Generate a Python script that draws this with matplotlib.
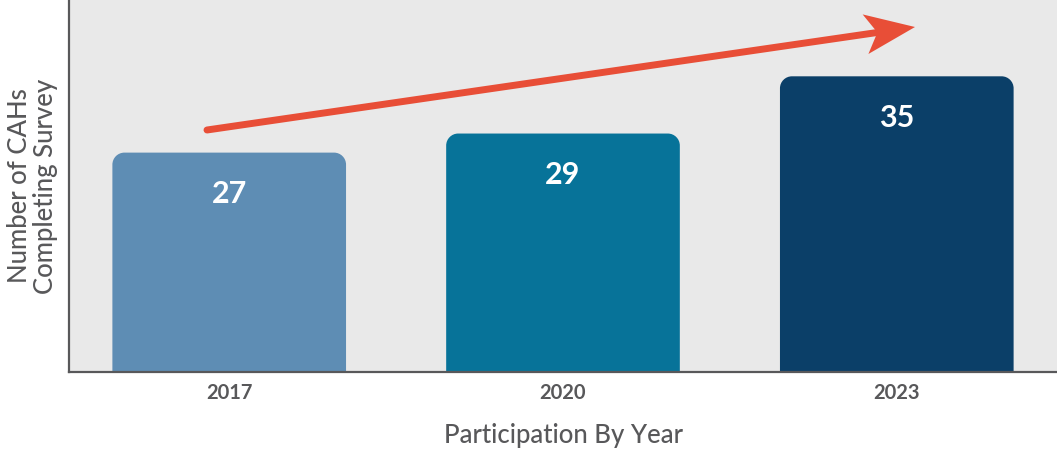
import matplotlib
matplotlib.use("Agg")
import matplotlib.pyplot as plt
import matplotlib.transforms as mtransforms
from matplotlib.patches import PathPatch, Polygon
from matplotlib.path import Path
from matplotlib.lines import Line2D
import numpy as np

# participation par annee
annees = ["2017", "2020", "2023"]
nb_cahs = [27, 29, 35]
couleurs = ["#5e8db4", "#077399", "#0b3f68"]

gris_texte = "#58585a"
plt.rcParams["font.family"] = ["Lato", "DejaVu Sans"]

fig = plt.figure(figsize=(10.57, 4.49), dpi=100)
ax = fig.add_axes([69 / 1057, 77 / 449, 988 / 1057, 372 / 449])
ax.set_facecolor("#e9e9e9")

x = np.arange(len(annees))
largeur = 0.70
ymin, ymax = 4, 43
ax.set_xlim(-0.48, 2.48)
ax.set_ylim(ymin, ymax)

# taille d'un pixel en unites de donnees
px_x = (ax.get_xlim()[1] - ax.get_xlim()[0]) / 988
px_y = (ymax - ymin) / 372
rx, ry = 12 * px_x, 12 * px_y
k = 0.5523


def barre_arrondie(x0, x1, y0, y1):
    # rectangle avec les deux coins du haut arrondis
    verts = [(x0, y0), (x0, y1 - ry),
             (x0, y1 - ry + k * ry), (x0 + rx - k * rx, y1), (x0 + rx, y1),
             (x1 - rx, y1),
             (x1 - rx + k * rx, y1), (x1, y1 - ry + k * ry), (x1, y1 - ry),
             (x1, y0), (x0, y0)]
    codes = [Path.MOVETO, Path.LINETO,
             Path.CURVE4, Path.CURVE4, Path.CURVE4,
             Path.LINETO,
             Path.CURVE4, Path.CURVE4, Path.CURVE4,
             Path.LINETO, Path.CLOSEPOLY]
    return Path(verts, codes)


for xi, v, c in zip(x, nb_cahs, couleurs):
    p = barre_arrondie(xi - largeur / 2, xi + largeur / 2, 0, v)
    ax.add_patch(PathPatch(p, fc=c, ec="none", zorder=2))
    ax.annotate(str(v), (xi, v), xytext=(0, -30), textcoords="offset points",
                ha="center", va="center", color="white", fontsize=22,
                fontweight="bold", zorder=3)

ax.set_xticks(x)
ax.set_xticklabels(annees, fontsize=14.5, fontweight="bold", color=gris_texte)
ax.tick_params(axis="x", length=0, pad=8)
ax.set_yticks([])

for s in ["top", "right"]:
    ax.spines[s].set_visible(False)
for s in ["left", "bottom"]:
    ax.spines[s].set_color(gris_texte)
    ax.spines[s].set_linewidth(1.6)
    ax.spines[s].set_zorder(4)

ax.set_xlabel("Participation By Year", fontsize=18.5, fontweight="medium",
              color=gris_texte, labelpad=14)
ax.set_ylabel("Number of CAHs\nCompleting Survey", fontsize=18.5, fontweight="medium",
              color=gris_texte, labelpad=8, linespacing=1.05)

# fleche de tendance (coordonnees pixels, origine en bas)
rouge = "#e84e37"
H = 449
queue = np.array([207, H - 130])
pointe = np.array([915, H - 27])
d = (pointe - queue) / np.linalg.norm(pointe - queue)
n = np.array([-d[1], d[0]])
encoche = pointe - 38 * d
tete = [pointe, pointe - 50 * d + 20 * n, encoche, pointe - 50 * d - 20 * n]
ident = mtransforms.IdentityTransform()
fig.add_artist(Line2D([queue[0], encoche[0] + 2 * d[0]], [queue[1], encoche[1] + 2 * d[1]],
                      transform=ident, color=rouge, lw=5, solid_capstyle="round", zorder=5))
fig.add_artist(Polygon(tete, closed=True, transform=ident, fc=rouge, ec="none", zorder=5))

fig.savefig("out.png", dpi=100)
